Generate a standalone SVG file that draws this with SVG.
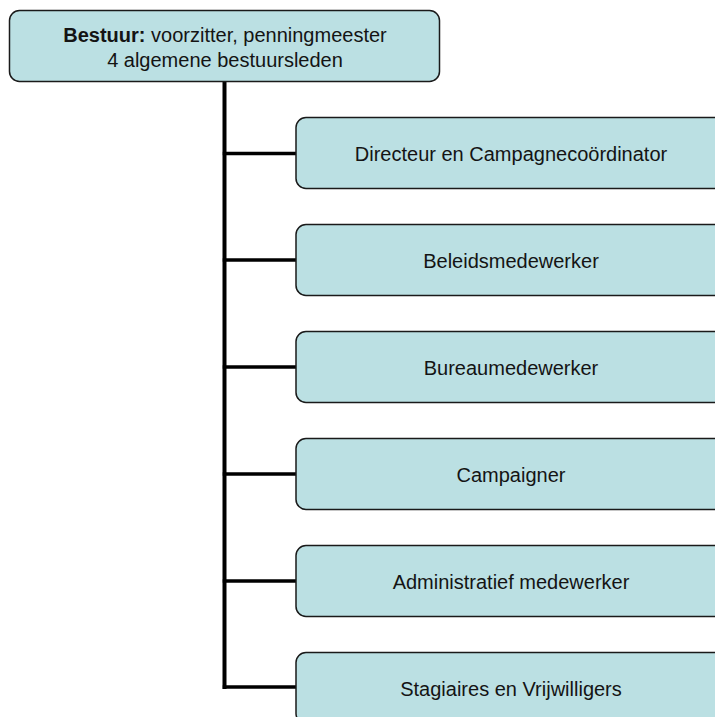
<svg xmlns="http://www.w3.org/2000/svg" width="715" height="717" viewBox="0 0 715 717">
<style>
.box{fill:#BBE0E3;stroke:#1a1a1a;stroke-width:1.5}
.t{font-family:"Liberation Sans",Arial,sans-serif;font-size:20px;fill:#141414;text-anchor:middle}
.b{font-weight:bold}
.c{stroke:#000;fill:none;stroke-linecap:square}
</style>
<rect width="715" height="717" fill="#fff"/>
<g id="connectors">
<line class="c" x1="224.5" y1="83" x2="224.5" y2="687" stroke-width="4"/>
<line class="c" x1="224.5" y1="153.5" x2="295" y2="153.5" stroke-width="3.5"/>
<line class="c" x1="224.5" y1="260" x2="295" y2="260" stroke-width="3.5"/>
<line class="c" x1="224.5" y1="367" x2="295" y2="367" stroke-width="3.5"/>
<line class="c" x1="224.5" y1="474" x2="295" y2="474" stroke-width="3.5"/>
<line class="c" x1="224.5" y1="581" x2="295" y2="581" stroke-width="3.5"/>
<line class="c" x1="224.5" y1="687" x2="295" y2="687" stroke-width="3.5"/>
</g>
<g id="bestuur">
<rect class="box" x="9.5" y="10.5" width="430" height="71" rx="10"/>
<text class="t" x="225" y="41.5"><tspan class="b">Bestuur:</tspan> voorzitter, penningmeester</text>
<text class="t" x="225" y="66.5">4 algemene bestuursleden</text>
</g>
<g id="directeur">
<rect class="box" x="296" y="117.5" width="440" height="71" rx="10"/>
<text class="t" x="511" y="160.5">Directeur en Campagnecoördinator</text>
</g>
<g id="beleidsmedewerker">
<rect class="box" x="296" y="224.5" width="440" height="71" rx="10"/>
<text class="t" x="511" y="267.5">Beleidsmedewerker</text>
</g>
<g id="bureaumedewerker">
<rect class="box" x="296" y="331.5" width="440" height="71" rx="10"/>
<text class="t" x="511" y="374.5">Bureaumedewerker</text>
</g>
<g id="campaigner">
<rect class="box" x="296" y="438.5" width="440" height="71" rx="10"/>
<text class="t" x="511" y="481.5">Campaigner</text>
</g>
<g id="administratief">
<rect class="box" x="296" y="545.5" width="440" height="71" rx="10"/>
<text class="t" x="511" y="588.5">Administratief medewerker</text>
</g>
<g id="stagiaires">
<rect class="box" x="296" y="652.5" width="440" height="71" rx="10"/>
<text class="t" x="511" y="695.5">Stagiaires en Vrijwilligers</text>
</g>
</svg>
